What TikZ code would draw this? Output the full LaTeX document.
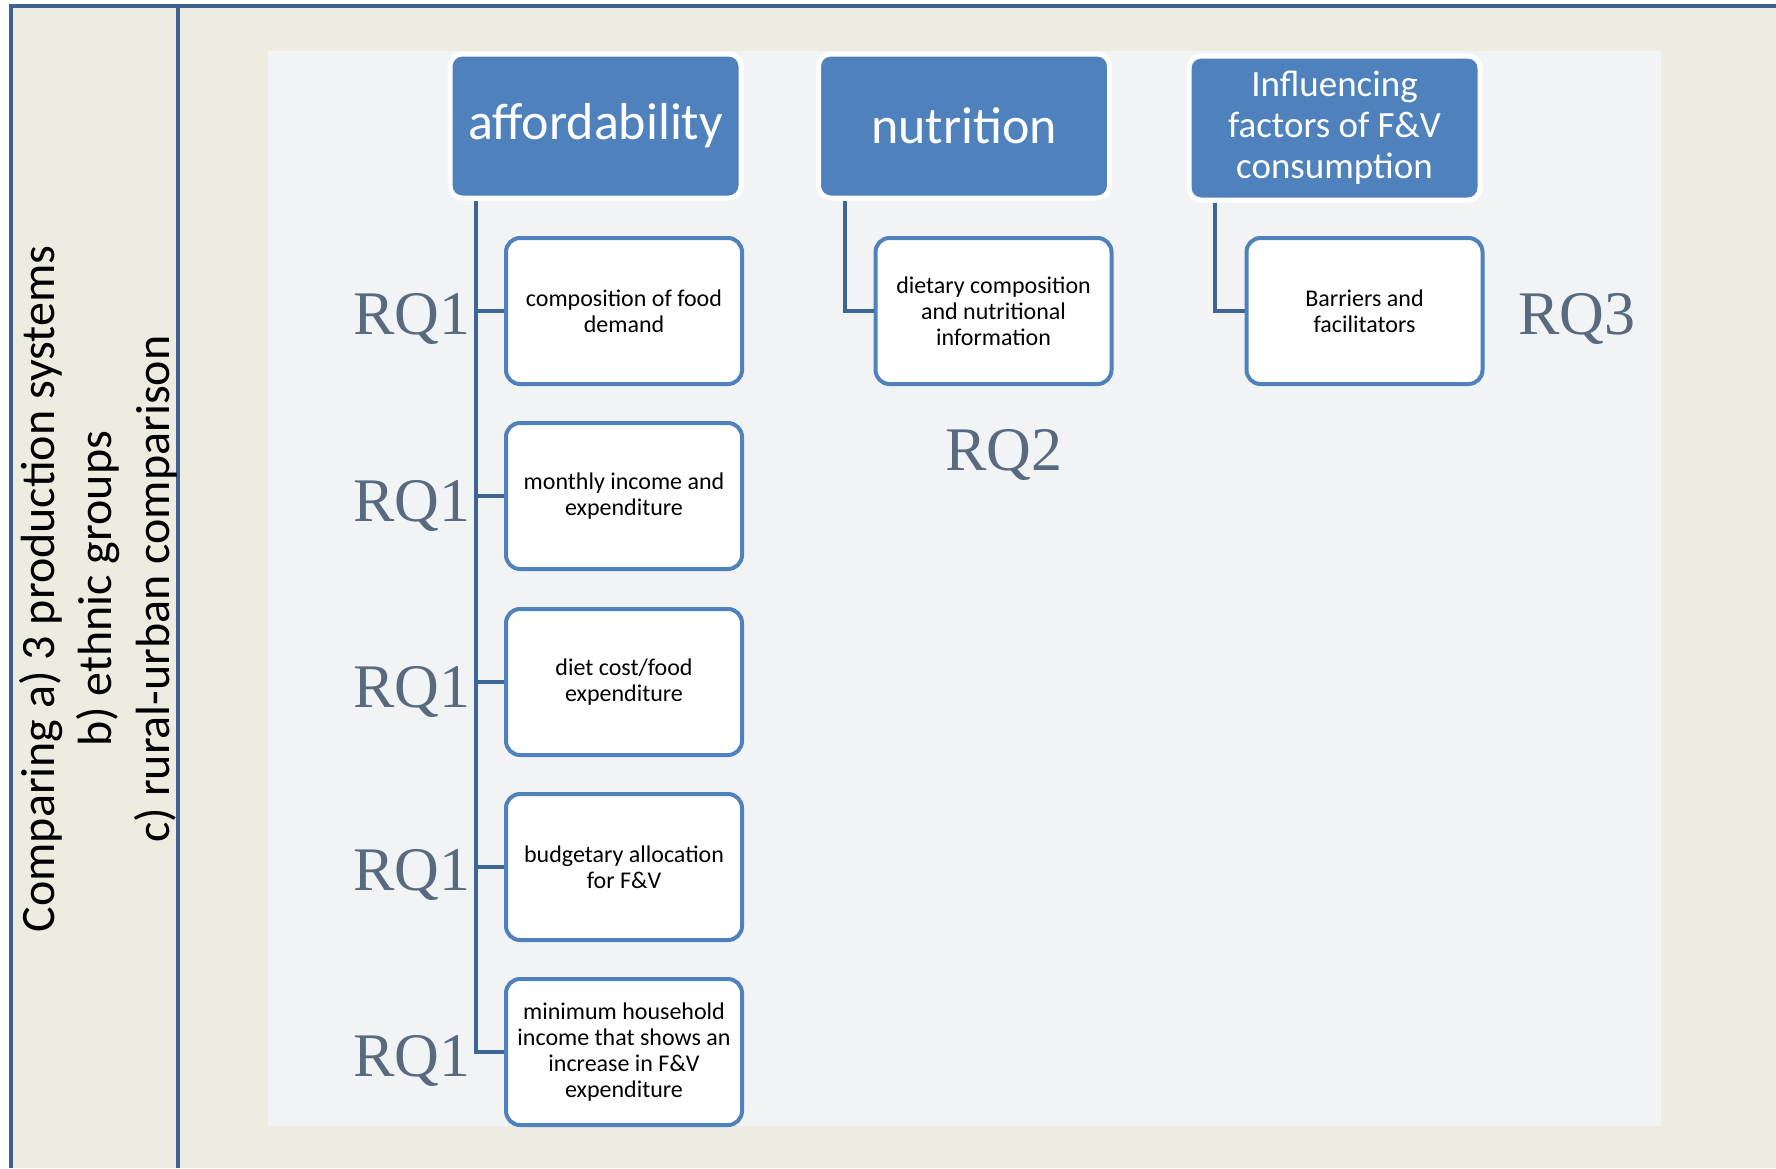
\documentclass[tikz,border=0pt]{standalone}
\usepackage{fontspec}
\setmainfont{Carlito}
\newfontfamily\rqfont{Liberation Serif}
\definecolor{beige}{HTML}{EEECE1}
\definecolor{panel}{HTML}{F2F3F5}
\definecolor{hdrblue}{HTML}{4F81BD}
\definecolor{framec}{HTML}{3F6190}
\definecolor{connc}{HTML}{3E6596}
\definecolor{rqc}{HTML}{586A80}
\begin{document}
\begin{tikzpicture}[x=0.5pt,y=-0.5pt,
  hdr/.style={draw=white,line width=2.5pt,fill=hdrblue,rounded corners=6pt,
    minimum width=145.5pt,minimum height=72pt,text=white,align=center,inner sep=2pt},
  child/.style={draw=hdrblue,line width=2pt,fill=white,rounded corners=7pt,
    minimum width=118pt,minimum height=73pt,align=center,inner sep=2pt,
    font=\fontsize{12}{13}\selectfont},
  conn/.style={draw=connc,line width=2pt},
  rq/.style={text=rqc,font=\rqfont\fontsize{31}{31}\selectfont,inner sep=0pt},
  frameline/.style={draw=framec,line width=2.2pt}]
\useasboundingbox (0,0) rectangle (1776,1168);
\fill[white] (0,0) rectangle (1776,1168);
\fill[beige] (11,6) rectangle (1776,1168);
\fill[panel] (268,51) rectangle (1661,1126);
\draw[frameline] (11,1168) -- (11,6) -- (1776,6);
\draw[frameline] (178,6) -- (178,1168);
% left text
\node[rotate=90,align=center,inner sep=0pt,font=\fontsize{24}{28.8}\selectfont] (side) at (98,589)
  {Comparing a) 3 production systems\\ b) ethnic groups\\ c) rural-urban comparison};
% headers
\node[hdr,font=\fontsize{26}{30}\selectfont] (aff) at (595.5,126) {affordability};
\node[hdr,font=\fontsize{26}{30}\selectfont] (nut) at (964,126) {nutrition};
\node[hdr,font=\fontsize{18.5}{20.5}\selectfont] (inf) at (1334.5,128) {Influencing\\ factors of F\&V\\ consumption};
% children
\node[child] (c1) at (624,311) {composition of food\\ demand};
\node[child] (c2) at (624,496) {monthly income and\\ expenditure};
\node[child] (c3) at (624,682) {diet cost/food\\ expenditure};
\node[child] (c4) at (624,867) {budgetary allocation\\ for F\&V};
\node[child] (c5) at (624,1052) {minimum household\\ income that shows an\\ increase in F\&V\\ expenditure};
\node[child] (n1) at (993.5,311) {dietary composition\\ and nutritional\\ information};
\node[child] (i1) at (1364.5,311) {Barriers and\\ facilitators};
% connectors
\coordinate (va) at ([xshift=14pt]aff.south west);
\coordinate (vn) at ([xshift=14.5pt]nut.south west);
\coordinate (vi) at ([xshift=14pt]inf.south west);
\draw[conn] (va) |- (c5.west);
\foreach \c in {c1,c2,c3,c4} { \draw[conn] (va |- \c.west) -- (\c.west); }
\draw[conn] (vn) |- (n1.west);
\draw[conn] (vi) |- (i1.west);
% RQ labels
\node[rq,anchor=east] (r1) at (471,319) {RQ1};
\node[rq,anchor=east] (r2) at (471,506) {RQ1};
\node[rq,anchor=east] (r3) at (471,692) {RQ1};
\node[rq,anchor=east] (r4) at (471,875) {RQ1};
\node[rq,anchor=east] (r5) at (471,1061) {RQ1};
\node[rq] (rq2) at (1004,455) {RQ2};
\node[rq] (rq3) at (1577,319) {RQ3};
\end{tikzpicture}
\end{document}
